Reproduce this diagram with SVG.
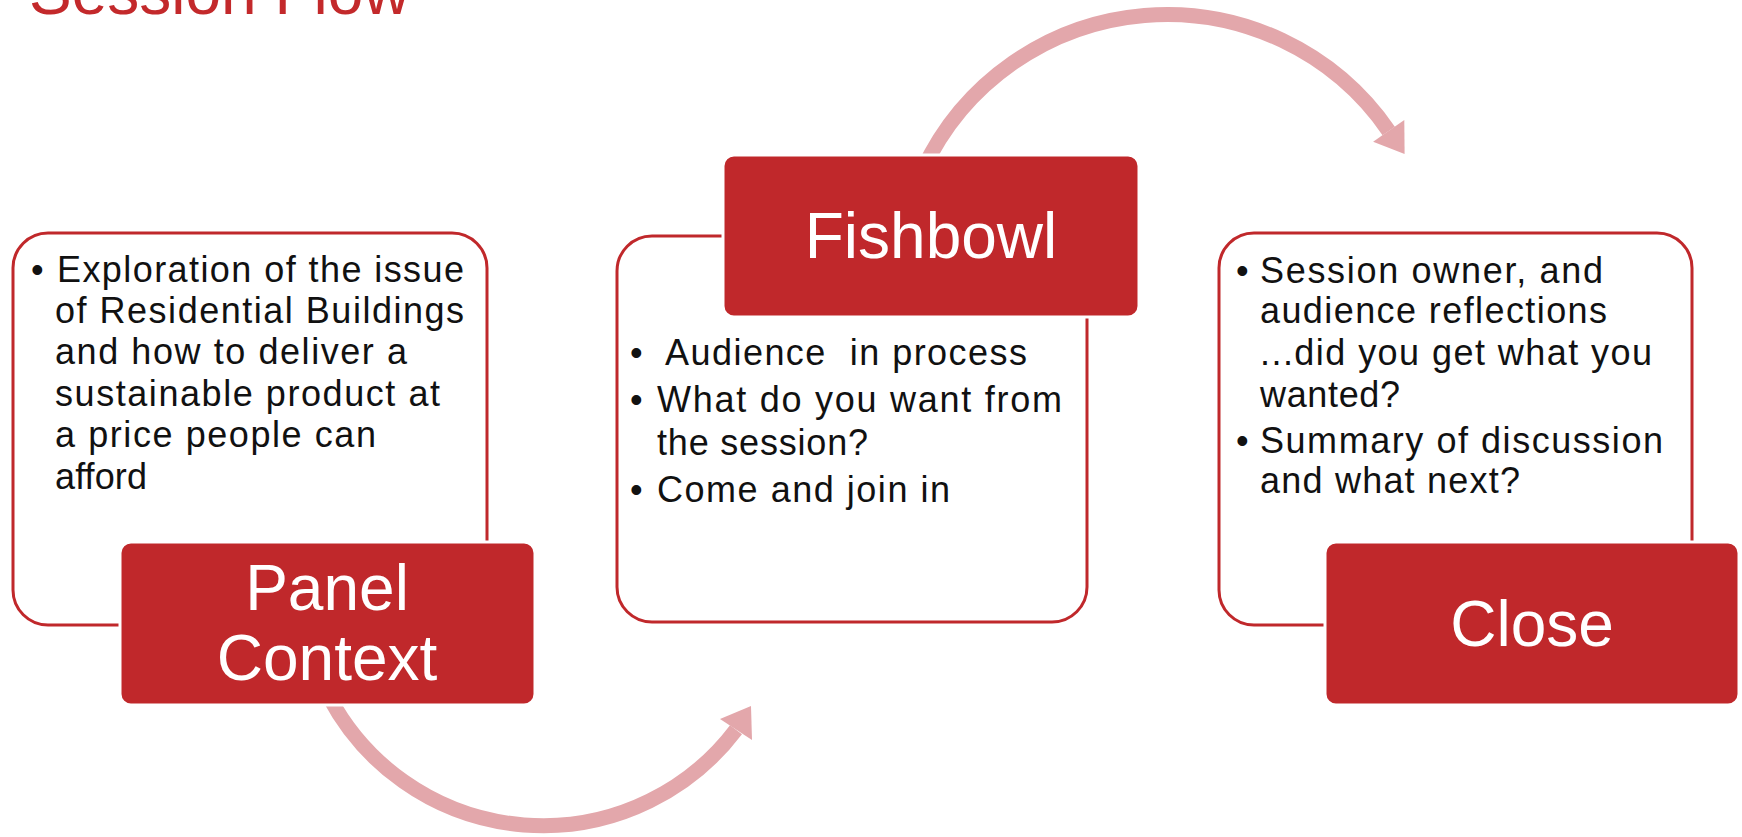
<svg xmlns="http://www.w3.org/2000/svg" width="1742" height="837" viewBox="0 0 1742 837">
<style>
.card{fill:#ffffff;stroke:#c0282b;stroke-width:3}
.head{fill:#c0282b;stroke:#ffffff;stroke-width:3}
.htxt{font-family:"Liberation Sans",Arial,sans-serif;font-size:64px;fill:#ffffff;text-anchor:middle}
.body{font-family:"Liberation Sans",Arial,sans-serif;font-size:36px;fill:#111111}
.arc{fill:none;stroke:#e3a7ab;stroke-width:15}
.tip{fill:#e3a7ab}
.title{font-family:"Liberation Sans",Arial,sans-serif;font-size:64px;fill:#c3292b}
</style>
<rect width="1742" height="837" fill="#ffffff"/>
<text class="title" x="29" y="14">Session Flow</text>
<g id="connectors">
<path class="arc" d="M 329.3 697.3 A 242 242 0 0 0 736 729.7"/>
<polygon class="tip" points="751,706 752,740 720,719"/>
<path class="arc" d="M 922.8 170 A 269.4 269.4 0 0 1 1388.7 130.9"/>
<polygon class="tip" points="1404.6,153.9 1404.3,120.1 1373.1,141.7"/>
</g>
<g id="panel-context">
<rect class="card" x="13" y="233" width="474" height="392" rx="35"/>
<rect class="head" x="120" y="542" width="415" height="163" rx="11"/>
<text class="htxt" x="327" y="610">Panel</text>
<text class="htxt" x="327" y="680">Context</text>
<text class="body" x="31" y="282">•</text>
<text class="body" x="57" y="282" textLength="407" lengthAdjust="spacing">Exploration of the issue</text>
<text class="body" x="55" y="323" textLength="409" lengthAdjust="spacing">of Residential Buildings</text>
<text class="body" x="55" y="364" textLength="352" lengthAdjust="spacing">and how to deliver a</text>
<text class="body" x="55" y="406" textLength="385" lengthAdjust="spacing">sustainable product at</text>
<text class="body" x="55" y="447" textLength="321" lengthAdjust="spacing">a price people can</text>
<text class="body" x="55" y="489" textLength="92" lengthAdjust="spacing">afford</text>
</g>
<g id="fishbowl">
<rect class="card" x="617" y="236" width="470" height="386" rx="35"/>
<rect class="head" x="723" y="155" width="416" height="162" rx="11"/>
<text class="htxt" x="931" y="258">Fishbowl</text>
<text class="body" x="630" y="365">•</text>
<text class="body" x="665" y="365" textLength="362" lengthAdjust="spacing" xml:space="preserve">Audience  in process</text>
<text class="body" x="630" y="412">•</text>
<text class="body" x="657" y="412" textLength="405" lengthAdjust="spacing">What do you want from</text>
<text class="body" x="657" y="455" textLength="211" lengthAdjust="spacing">the session?</text>
<text class="body" x="630" y="502">•</text>
<text class="body" x="657" y="502" textLength="293" lengthAdjust="spacing">Come and join in</text>
</g>
<g id="close">
<rect class="card" x="1219" y="233" width="473" height="392" rx="35"/>
<rect class="head" x="1325" y="542" width="414" height="163" rx="11"/>
<text class="htxt" x="1532" y="646">Close</text>
<text class="body" x="1236" y="283">•</text>
<text class="body" x="1260" y="283" textLength="343" lengthAdjust="spacing">Session owner, and</text>
<text class="body" x="1260" y="323" textLength="347" lengthAdjust="spacing">audience reflections</text>
<text class="body" x="1260" y="365" textLength="392" lengthAdjust="spacing">...did you get what you</text>
<text class="body" x="1260" y="407" textLength="140" lengthAdjust="spacing">wanted?</text>
<text class="body" x="1236" y="453">•</text>
<text class="body" x="1260" y="453" textLength="403" lengthAdjust="spacing">Summary of discussion</text>
<text class="body" x="1260" y="493" textLength="260" lengthAdjust="spacing">and what next?</text>
</g>
</svg>
